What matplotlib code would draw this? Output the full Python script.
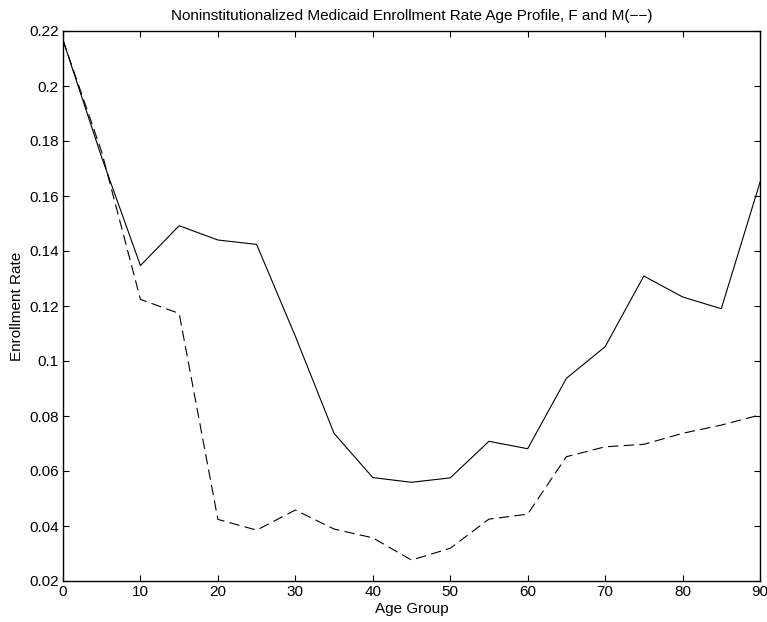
import matplotlib
matplotlib.use("Agg")
import matplotlib.pyplot as plt

ages = [0, 5, 10, 15, 20, 25, 30, 35, 40, 45, 50, 55, 60, 65, 70, 75, 80, 85, 90]
female = [0.2167, 0.174, 0.1347, 0.1492, 0.1440, 0.1424, 0.1090, 0.0737, 0.0576,
          0.0559, 0.0575, 0.0708, 0.0681, 0.0937, 0.1052, 0.1309, 0.1233, 0.1190, 0.1650]
male = [0.2167, 0.176, 0.1224, 0.1173, 0.0424, 0.0385, 0.0458, 0.0389, 0.0357,
        0.0276, 0.0319, 0.0425, 0.0443, 0.0652, 0.0688, 0.0697, 0.0737, 0.0767, 0.0804]

xticks = [0, 10, 20, 30, 40, 50, 60, 70, 80, 90]
yticks = [0.02, 0.04, 0.06, 0.08, 0.10, 0.12, 0.14, 0.16, 0.18, 0.20, 0.22]
ytick_labels = ["0.02", "0.04", "0.06", "0.08", "0.1", "0.12", "0.14", "0.16", "0.18", "0.2", "0.22"]

plt.rcParams['font.family'] = ['Liberation Sans', 'DejaVu Sans']
plt.rcParams['lines.scale_dashes'] = False

fig = plt.figure(figsize=(7.67, 6.22), dpi=100)
ax = fig.add_axes([63 / 767, 41 / 622, 697 / 767, 550 / 622])

ax.plot(ages, female, color='black', lw=0.8, linestyle='-')
ax.plot(ages, male, color='black', lw=0.8, linestyle=(0, (7.5, 3.8)))

ax.set_xlim(0, 90)
ax.set_ylim(0.02, 0.22)
ax.set_xticks(xticks)
ax.set_xticklabels([str(t) for t in xticks])
ax.set_yticks(yticks)
ax.set_yticklabels(ytick_labels)

ax.tick_params(direction='in', length=4.5, width=0.8, labelsize=11,
               top=True, right=True, pad=3)
for s in ax.spines.values():
    s.set_linewidth(1.0)

ax.set_title("Noninstitutionalized Medicaid Enrollment Rate Age Profile, F and M(\u2212\u2212)",
             fontsize=11, pad=8)
ax.set_xlabel("Age Group", fontsize=11, labelpad=2)
ax.set_ylabel("Enrollment Rate", fontsize=11, labelpad=4)

fig.savefig("out.png", dpi=100)
